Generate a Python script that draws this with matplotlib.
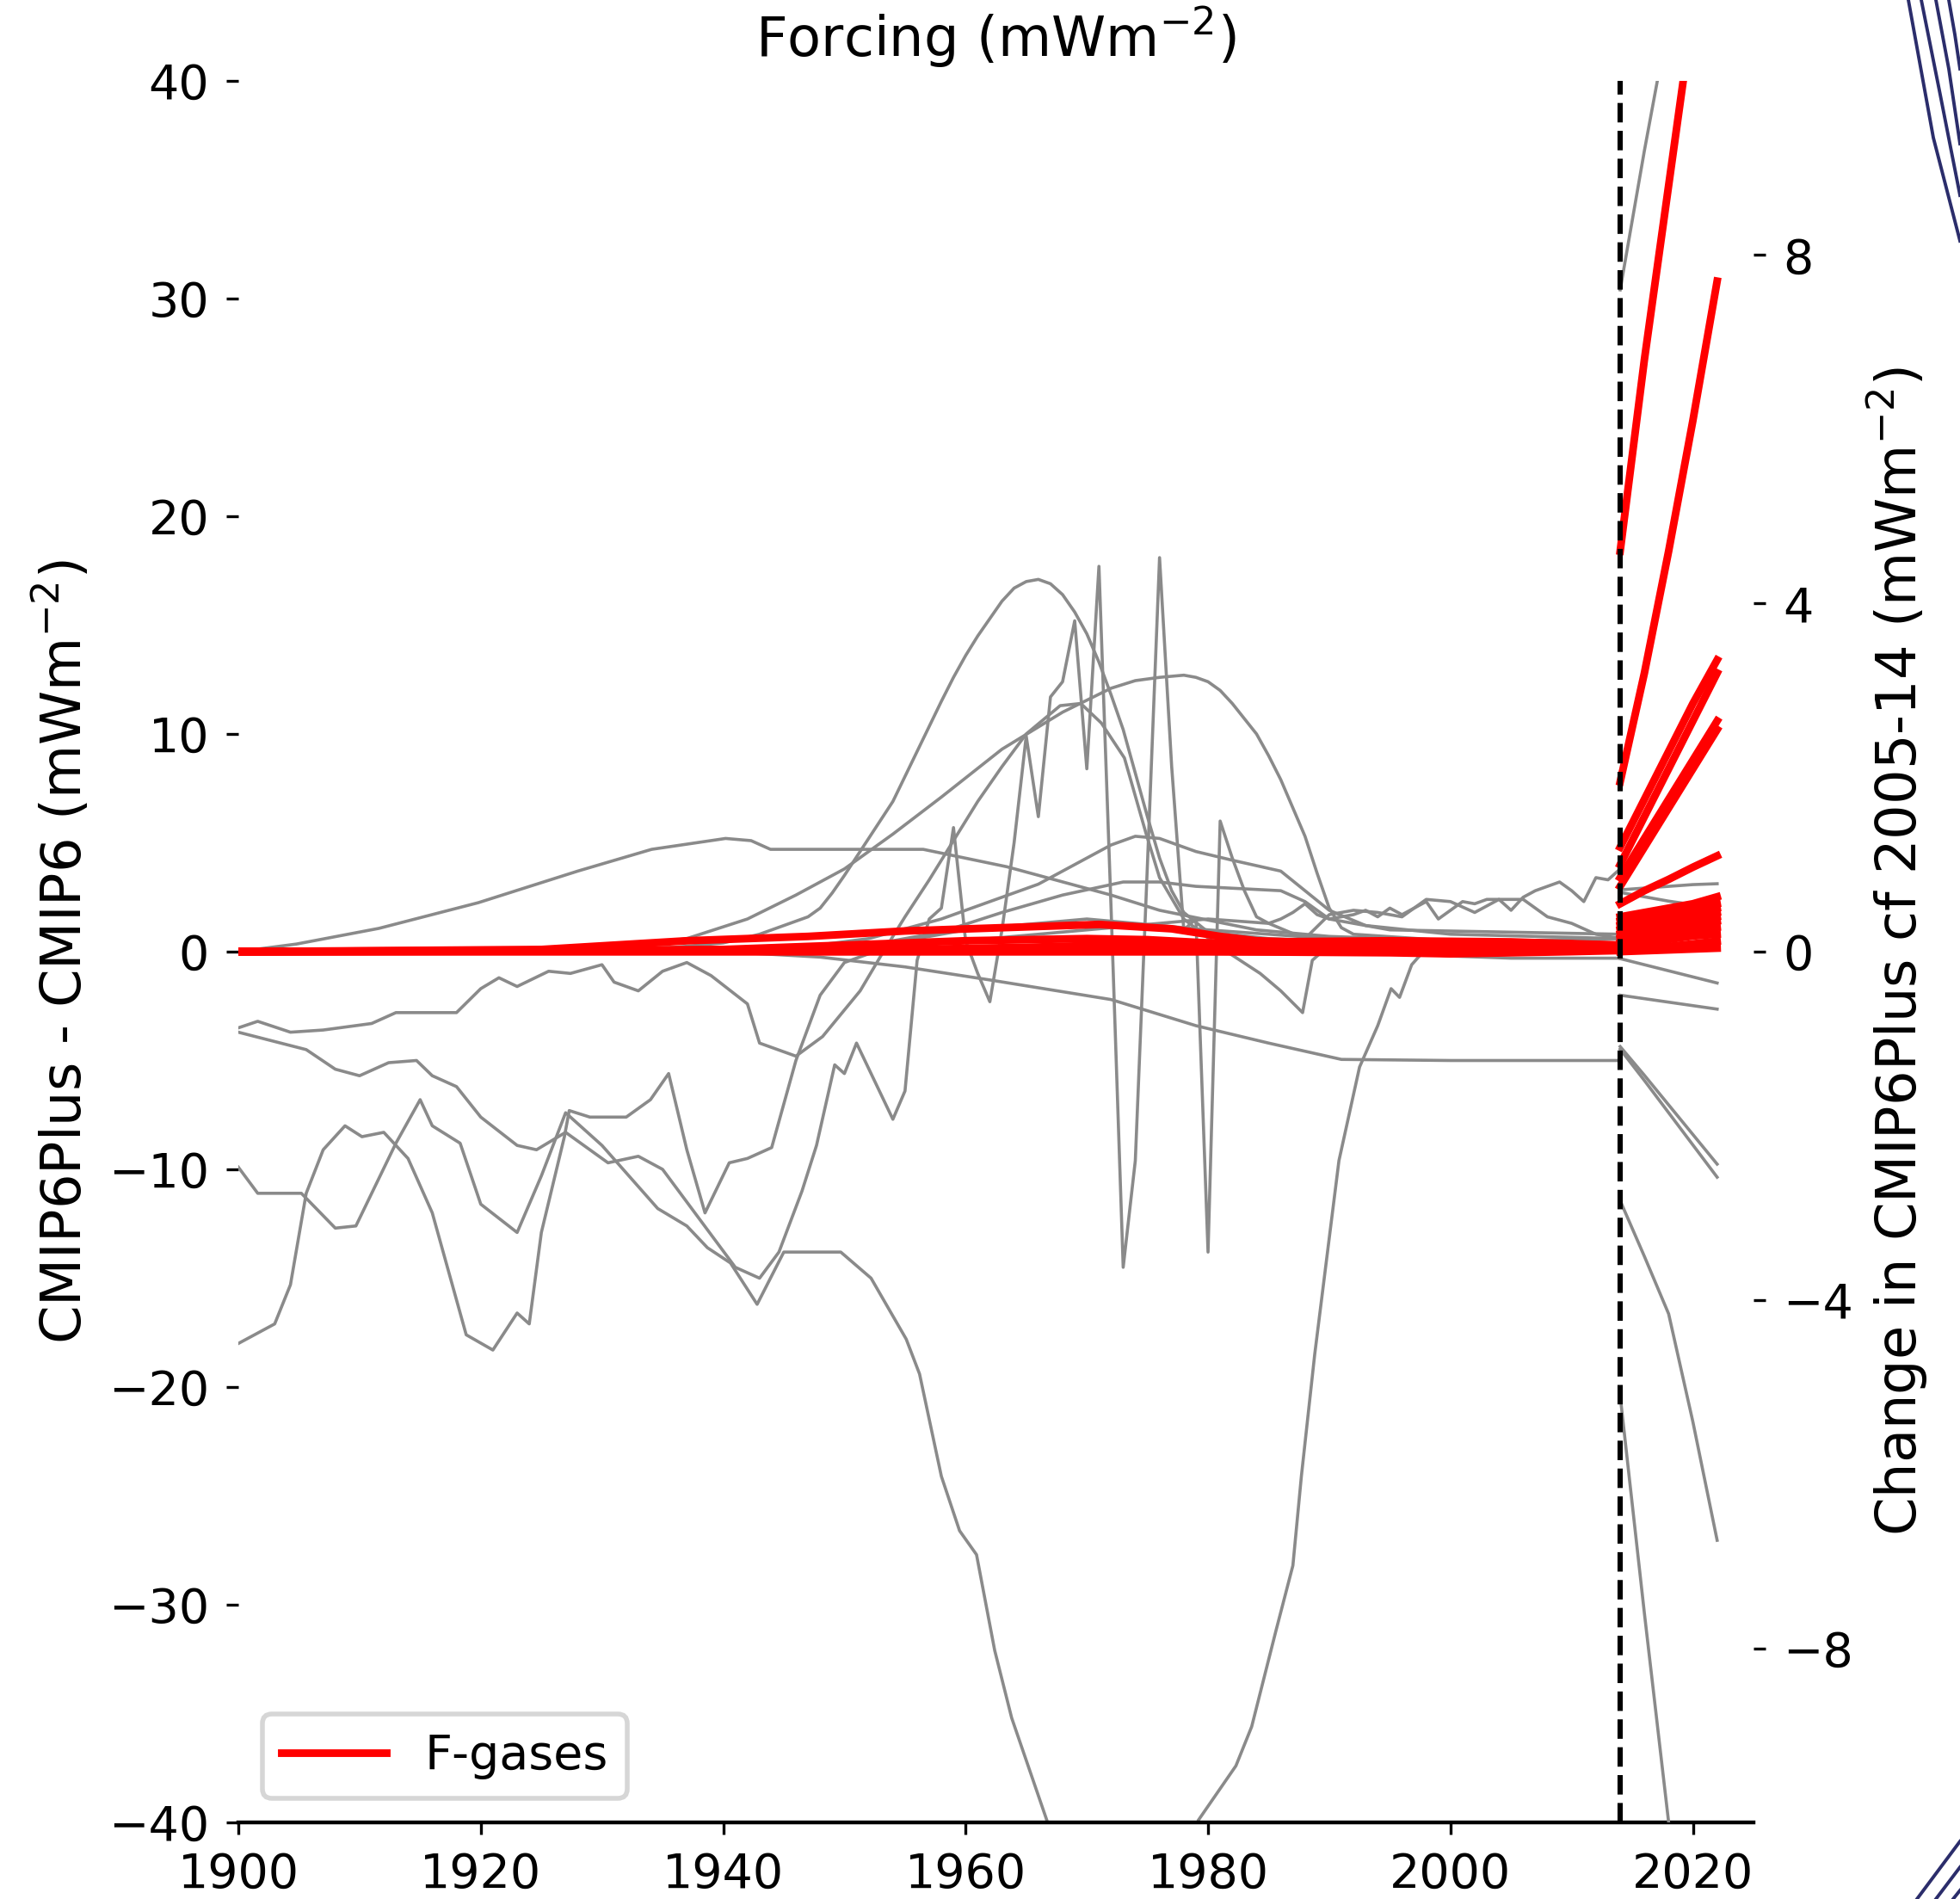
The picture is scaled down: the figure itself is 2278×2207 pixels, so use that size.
import matplotlib
matplotlib.use("Agg")
import matplotlib.pyplot as plt
from matplotlib.lines import Line2D

# ---- pre-2014 differences, CMIP6Plus - CMIP6 (left axis, mW m-2) ----
ga_yr = [1900, 1901.6, 1904.3, 1907, 1911, 1913, 1918, 1920, 1921.5, 1923, 1925.6, 1927.4,
         1930, 1931, 1933, 1935, 1937, 1939, 1942, 1943, 1946, 1948.2, 1951.3, 1953, 1955,
         1957, 1959, 1961, 1963, 1965, 1967.8, 1969.5, 1971.2, 1973.1, 1974.9, 1976, 1978,
         1981, 1984.3, 1986, 1987.8, 1988.6, 1990, 1995, 2000, 2005, 2014]
ga_val = [-3.5, -3.2, -3.7, -3.6, -3.3, -2.8, -2.8, -1.7, -1.2, -1.6, -0.9, -1.0,
          -0.6, -1.4, -1.8, -0.9, -0.5, -1.1, -2.4, -4.2, -4.8, -3.9, -1.8, -0.2, 1.6,
          3.3, 5.1, 6.9, 8.5, 10.0, 11.3, 11.4, 10.5, 8.9, 5.4, 3.4, 1.5,
          0.2, -1.0, -1.8, -2.8, -0.4, 0.3, 0.4, 0.5, 0.5, 0.6]

gb_yr = [1900, 1905.6, 1908, 1910, 1912.4, 1914.7, 1916, 1918, 1920, 1923, 1924.6, 1927,
         1930.5, 1933, 1935, 1937, 1939, 1941, 1943, 1944.6, 1946.5, 1947.7, 1949.2, 1950,
         1951, 1954, 1955, 1956, 1957, 1958, 1959, 1960, 1961, 1962, 1963, 1964, 1965,
         1966, 1967, 1968, 1969, 1970, 1971, 1972, 1973, 1974, 1975, 1976, 1977, 1978,
         1979, 1980, 1981, 1982, 1983, 1984, 1985, 1986, 1987, 1988, 1989, 1990, 1991,
         1992, 1993, 1994, 1995, 1996, 1997, 1998, 1999, 2000, 2001, 2002, 2003, 2004,
         2005, 2006, 2007, 2008, 2009, 2010, 2011, 2012, 2013, 2014]
gb_val = [-3.7, -4.5, -5.4, -5.7, -5.1, -5.0, -5.7, -6.2, -7.6, -8.9, -9.1, -8.3,
          -9.7, -9.4, -10.0, -11.5, -13.0, -14.5, -15.0, -13.8, -11.0, -8.9, -5.2, -5.6,
          -4.2, -7.7, -6.4, -0.4, 1.5, 2.0, 5.7, 0.5, -1.0, -2.3, 1.0, 5.0, 9.9,
          6.2, 11.7, 12.4, 15.2, 8.4, 17.7, 2.0, -14.5, -9.6, 4.0, 18.1, 8.5, 1.0,
          1.5, -13.8, 6.0, 4.3, 2.8, 1.6, 1.3, 1.5, 1.8, 2.2, 1.7, 1.5, 1.6,
          1.7, 1.9, 1.6, 2.0, 1.7, 2.0, 2.3, 1.5, 1.9, 2.3, 2.2, 2.4, 2.4,
          1.9, 2.5, 2.8, 3.0, 3.2, 2.8, 2.3, 3.4, 3.3, 3.8]

gc_yr = [1900, 1901.6, 1905.2, 1908, 1909.7, 1913, 1915, 1916, 1918.3, 1920, 1923, 1925,
         1927, 1930, 1934.6, 1937, 1938.7, 1940.6, 1942.8, 1945, 1949.7, 1952.2, 1955.1,
         1956.2, 1958, 1959.5, 1960.9, 1962.4, 1963.8, 1966.7, 1970, 1973, 1976, 1979.2,
         1982.3, 1983.6, 1985.6, 1987, 1987.7, 1988.8, 1989.9, 1990.8, 1992.5, 1994,
         1995.1, 1995.8, 1996.8, 1997.6, 2000, 2005, 2010, 2014]
gc_val = [-9.9, -11.1, -11.1, -12.7, -12.6, -8.8, -6.8, -8.0, -8.8, -11.6, -12.9, -10.3,
          -7.4, -8.9, -11.8, -12.6, -13.6, -14.3, -16.2, -13.8, -13.8, -15.0, -17.8,
          -19.4, -24.1, -26.6, -27.7, -32.1, -35.2, -39.9, -46.0, -48.0, -46.0, -39.9,
          -37.4, -35.6, -31.2, -28.2, -24.1, -18.5, -13.6, -9.6, -5.3, -3.4,
          -1.7, -2.1, -0.6, -0.1, -0.2, -0.3, -0.3, -0.3]

gd_yr = [1900, 1903, 1904.3, 1905.6, 1907, 1908.8, 1910.2, 1912, 1914, 1916, 1918.8, 1921,
         1923, 1924, 1925, 1926.9, 1927.3, 1929, 1932, 1934, 1935.5, 1937, 1938.5, 1940.5,
         1942, 1944, 1946, 1948, 1950, 1955, 1960, 1970, 1980, 1990, 2000, 2014]
gd_val = [-18.0, -17.1, -15.3, -11.1, -9.1, -8.0, -8.5, -8.3, -9.5, -12.0, -17.6, -18.3,
          -16.6, -17.1, -12.9, -8.5, -7.3, -7.6, -7.6, -6.8, -5.6, -9.1, -12.0, -9.7,
          -9.5, -9.0, -5.0, -2.0, -0.5, 0.5, 1.0, 1.5, 1.0, 0.6, 0.3, 0.2]

hump_yr = [1900, 1930, 1936, 1940, 1943, 1945, 1947, 1948, 1949, 1950, 1952, 1954, 1956,
           1958, 1959, 1960, 1961, 1962, 1963, 1964, 1965, 1966, 1967, 1968, 1969, 1970,
           1971, 1972, 1973, 1974, 1975, 1976, 1977, 1978, 1980, 1985, 1990, 2000, 2014]
hump_val = [0, 0.05, 0.2, 0.4, 0.8, 1.2, 1.6, 2.0, 2.7, 3.5, 5.2, 6.9, 9.2,
            11.5, 12.6, 13.6, 14.5, 15.3, 16.1, 16.7, 17.0, 17.1, 16.9, 16.4, 15.6, 14.6,
            13.3, 11.8, 10.2, 8.2, 6.2, 4.3, 2.8, 1.8, 0.9, 0.6, 0.5, 0.4, 0.3]

plateau_yr = [1900, 1930, 1937, 1942, 1946, 1950, 1954, 1958, 1963, 1968, 1972, 1974,
              1976, 1978, 1979, 1980, 1981, 1982, 1983, 1984, 1985, 1986, 1987, 1988,
              1989, 1990, 1991, 1992, 2000, 2014]
plateau_val = [0, 0.1, 0.6, 1.5, 2.6, 3.8, 5.4, 7.1, 9.3, 11.0, 12.1, 12.45,
               12.6, 12.7, 12.6, 12.4, 12.0, 11.4, 10.7, 10.0, 9.0, 7.9, 6.6, 5.3,
               3.6, 2.0, 1.1, 0.8, 0.5, 0.4]

slow_yr = [1900, 1904.8, 1911.6, 1919.8, 1928, 1934.1, 1940.2, 1942.3, 1943.9, 1950.4,
           1956.5, 1963.4, 1972, 1976, 1984, 1990, 2000, 2014]
slow_val = [0, 0.35, 1.07, 2.25, 3.7, 4.7, 5.2, 5.1, 4.7, 4.7,
            4.7, 3.9, 2.6, 1.9, 1.0, 0.7, 0.5, 0.4]

bump5_yr = [1900, 1945, 1952, 1958, 1963, 1966, 1969, 1972, 1974, 1976, 1979, 1982, 1986,
            1988, 1990, 1993, 2000, 2014]
bump5_val = [0, 0.1, 0.6, 1.5, 2.5, 3.1, 4.0, 4.9, 5.3, 5.2, 4.6, 4.2, 3.7,
             2.8, 1.9, 1.2, 0.8, 0.6]

bump3_yr = [1900, 1950, 1958, 1963, 1968, 1973, 1976, 1979, 1986, 1988, 1990, 1995, 2014]
bump3_val = [0, 0.1, 0.9, 1.8, 2.6, 3.2, 3.2, 3.0, 2.8, 2.3, 1.5, 1.0, 0.8]

neg5_yr = [1900, 1940, 1948, 1955, 1962, 1972, 1979, 1985, 1989, 1991, 2000, 2014]
neg5_val = [0, 0, -0.25, -0.7, -1.3, -2.2, -3.4, -4.2, -4.7, -4.95, -5.0, -5.0]

noisy_yr = [1900, 1950, 1960, 1970, 1980, 1985, 1988, 1990, 1992, 1994, 1996, 1998, 2000,
            2002, 2004, 2006, 2008, 2010, 2012, 2014]
noisy_val = [0, 0, 0.5, 1.0, 1.5, 1.3, 0.6, 1.7, 1.9, 1.8, 1.6, 2.4, 2.3,
             1.8, 2.4, 2.4, 1.6, 1.3, 0.8, 0.6]

gray_pre = [(ga_yr, ga_val), (gb_yr, gb_val), (gc_yr, gc_val), (gd_yr, gd_val),
            (hump_yr, hump_val), (plateau_yr, plateau_val), (slow_yr, slow_val),
            (bump5_yr, bump5_val), (bump3_yr, bump3_val), (neg5_yr, neg5_val),
            (noisy_yr, noisy_val)]

# F-gases before 2014 (left axis)
fg_hump_yr = [1900, 1925, 1937, 1947, 1955, 1963, 1971, 1977, 1981, 1984, 1990, 2000, 2014]
fg_hump_val = [0, 0.1, 0.5, 0.7, 0.95, 1.1, 1.25, 1.05, 0.7, 0.5, 0.4, 0.3, 0.25]
fg_small_yr = [1900, 1940, 1950, 1960, 1970, 1975, 1980, 1990, 2005, 2014]
fg_small_val = [0, 0.1, 0.3, 0.5, 0.6, 0.55, 0.4, 0.3, 0.2, 0.15]
fg_late_yr = [1900, 1960, 1980, 1995, 2005, 2014]
fg_late_val = [0, 0.05, 0.2, 0.35, 0.4, 0.3]
fg_mid_yr = [1900, 1950, 1965, 1975, 1985, 1995, 2005, 2014]
fg_mid_val = [0, 0.05, 0.2, 0.35, 0.45, 0.5, 0.45, 0.3]
fg_rise_yr = [1900, 1970, 1985, 1995, 2000, 2010, 2014]
fg_rise_val = [0, 0.1, 0.3, 0.4, 0.45, 0.35, 0.2]
fg_dip_yr = [1900, 1980, 1995, 2000, 2010, 2014]
fg_dip_val = [0, 0, -0.05, -0.1, 0, 0.05]
fg_flat_yr = [1900, 1990, 2005, 2014]
fg_flat_val = [0, 0, 0.1, 0.1]

red_pre = [(fg_hump_yr, fg_hump_val), (fg_small_yr, fg_small_val),
           (fg_late_yr, fg_late_val), (fg_mid_yr, fg_mid_val),
           (fg_rise_yr, fg_rise_val), (fg_dip_yr, fg_dip_val),
           (fg_flat_yr, fg_flat_val)]

# ---- after 2014: change relative to 2005-14 (right axis) ----
post_yr = [2014, 2016, 2018, 2020, 2022]
gray_post = [
    [7.6, 9.2, 10.7, 12.3, 13.9],
    [0.71, 0.73, 0.75, 0.77, 0.78],
    [0.68, 0.63, 0.58, 0.54, 0.50],
    [-0.08, -0.15, -0.22, -0.29, -0.36],
    [-0.50, -0.54, -0.58, -0.62, -0.66],
    [-1.09, -1.42, -1.76, -2.10, -2.44],
    [-1.12, -1.48, -1.85, -2.22, -2.59],
    [-2.86, -3.50, -4.16, -5.40, -6.76],
    [-5.1, -7.6, -10.0, -12.4, -14.8],
]
red_post = [
    [4.6, 6.8, 8.8, 10.8, 12.8],
    [1.95, 3.2, 4.6, 6.1, 7.7],
    [1.2, 1.75, 2.3, 2.85, 3.35],
    [1.0, 1.55, 2.1, 2.65, 3.2],
    [0.85, 1.3, 1.75, 2.2, 2.65],
    [0.75, 1.2, 1.65, 2.1, 2.55],
    [0.55, 0.7, 0.83, 0.97, 1.1],
    [0.4, 0.45, 0.5, 0.55, 0.63],
    [0.35, 0.4, 0.45, 0.5, 0.55],
    [0.3, 0.35, 0.4, 0.45, 0.5],
    [0.25, 0.3, 0.35, 0.4, 0.45],
    [0.2, 0.25, 0.3, 0.35, 0.4],
    [0.15, 0.2, 0.25, 0.3, 0.35],
    [0.1, 0.15, 0.2, 0.25, 0.28],
    [0.05, 0.1, 0.14, 0.18, 0.2],
    [0.0, 0.03, 0.06, 0.09, 0.12],
    [0.0, 0.01, 0.02, 0.03, 0.04],
]

GREY, RED = "#8a8a8a", "red"
LW_G, LW_R = 0.65, 1.6

fig = plt.figure(figsize=(2278 / 400, 2207 / 400), dpi=400)
ax = fig.add_axes([277 / 2278, 89 / 2207, (2038 - 277) / 2278, (2118 - 94) / 2207])
ax2 = ax.twinx()

for yrs, vals in gray_pre:
    ax.plot(yrs, vals, color=GREY, lw=LW_G)
for yrs, vals in red_pre:
    ax.plot(yrs, vals, color=RED, lw=LW_R)
for vals in gray_post:
    ax2.plot(post_yr, vals, color=GREY, lw=LW_G)
for vals in red_post:
    ax2.plot(post_yr, vals, color=RED, lw=LW_R)
ax2.axvline(2014, color="black", ls="--", lw=1.1)

ax.set_xlim(1900, 2025)
ax.set_ylim(-40, 40)
ax2.set_ylim(-10, 10)
ax.set_xticks(range(1900, 2021, 20))
ax.set_yticks(range(-40, 41, 10))
ax2.set_yticks([-8, -4, 0, 4, 8])

for s in ["top", "left", "right"]:
    ax.spines[s].set_visible(False)
for s in ax2.spines.values():
    s.set_visible(False)
ax.tick_params(length=2.6, width=0.6, labelsize=10)
ax2.tick_params(length=2.6, width=0.6, labelsize=10)

ax.set_title("Forcing (mWm$^{-2}$)", fontsize=11.5, pad=5)
ax.set_ylabel("CMIP6Plus - CMIP6 (mWm$^{-2}$)", fontsize=11.5, labelpad=3.3)
ax2.set_ylabel("Change in CMIP6Plus cf 2005-14 (mWm$^{-2}$)", fontsize=11.5, labelpad=2.6)

ax.legend(handles=[Line2D([], [], color=RED, lw=LW_R, label="F-gases")],
          loc="lower left", fontsize=10, handlelength=2.2)

# slide-background strokes at the right edge
navy = "#2b2d6b"
W, H = 2278, 2207
for x0, x1, x2, y1, y2 in [(2218, 2247, 2278, 160, 280), (2233, 2255, 2278, 110, 227),
                           (2250, 2265, 2278, 80, 167), (2265, 2272, 2278, 40, 80)]:
    fig.add_artist(Line2D([x0 / W, x1 / W, x2 / W], [1, 1 - y1 / H, 1 - y2 / H],
                          transform=fig.transFigure, color=navy, lw=0.7))
for x0, x1, y1 in [(2228, 2278, 2140), (2250, 2278, 2170), (2270, 2278, 2197)]:
    fig.add_artist(Line2D([x0 / W, x1 / W], [0, 1 - y1 / H],
                          transform=fig.transFigure, color=navy, lw=0.7))

fig.savefig("out.png", dpi=400)
